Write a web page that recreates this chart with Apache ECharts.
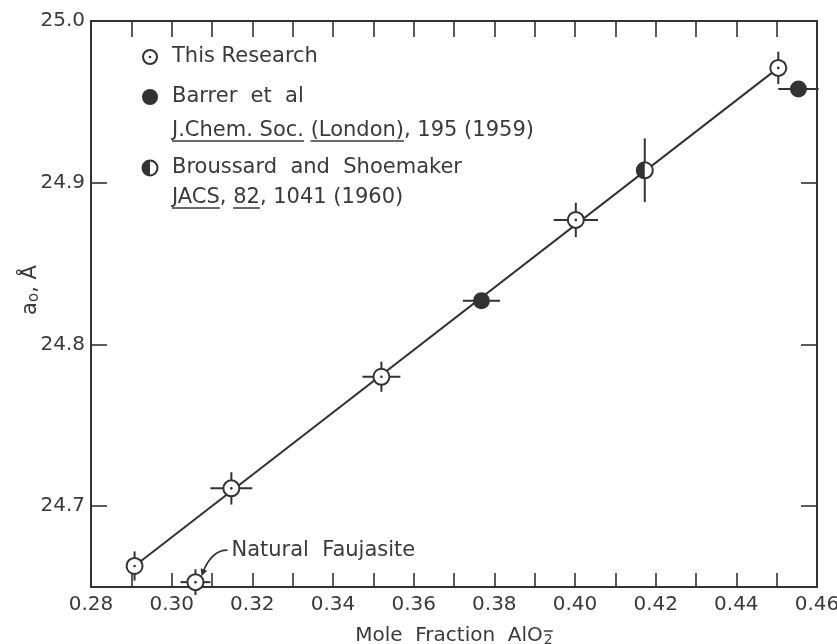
<!DOCTYPE html>
<html>
<head>
<meta charset="utf-8">
<script src="https://cdn.jsdelivr.net/npm/echarts@6/dist/echarts.min.js"></script>
<style>
html,body{margin:0;padding:0;background:#fff}
#main{width:837px;height:644px}
</style>
</head>
<body>
<div id="main"></div>
<script>
// [x, y, xErr, yErr]  (0 = no bar)
var thisResearch = [
  [0.2908, 24.663, 0, 0.009],
  [0.3059, 24.653, 0.0037, 0.008],
  [0.3148, 24.711, 0.0052, 0.010],
  [0.3520, 24.780, 0.0047, 0.0093],
  [0.4002, 24.877, 0.0055, 0.0106],
  [0.4504, 24.971, 0, 0.010]
];
var barrer = [
  [0.3768, 24.827, 0.0046, 0],
  [0.4554, 24.958, 0.005, 0]
];
var broussard = [
  [0.4173, 24.9077, 0, 0.0197]
];
var fitLine = [[0.2908, 24.663], [0.4504, 24.971]];
var faujasite = [0.3059, 24.653];

var xRange = [0.28, 0.46];
var yRange = [24.65, 25.0];

var legendRows = [
  { marker: 'open', y: 57, parts: ['This Research'], under: [false] },
  { marker: 'filled', y: 97, parts: ['Barrer  et  al'], under: [false] },
  { y: 131, parts: ['J.Chem. Soc.', ' ', '(London)', ', 195 (1959)'], under: [true, false, true, false] },
  { marker: 'half', y: 168, parts: ['Broussard  and  Shoemaker'], under: [false] },
  { y: 198, parts: ['JACS', ', ', '82', ', 1041 (1960)'], under: [true, false, true, false] }
];

var INK = '#333';
var TXT = '#3a3a3a';
var FONT = '"DejaVu Sans", sans-serif';
var GRID = { left: 91, right: 20, top: 21, bottom: 57, containLabel: false, outerBoundsMode: 'none' };

var chart = echarts.init(document.getElementById('main'));

function bars(api) {
  var x = api.value(0), y = api.value(1), ex = api.value(2), ey = api.value(3);
  var kids = [];
  if (ex) {
    var a = api.coord([x - ex, y]), b = api.coord([x + ex, y]);
    kids.push({ type: 'line', shape: { x1: a[0], y1: a[1], x2: b[0], y2: b[1] }, style: { stroke: INK, lineWidth: 2 } });
  }
  if (ey) {
    var c = api.coord([x, y - ey]), d = api.coord([x, y + ey]);
    kids.push({ type: 'line', shape: { x1: c[0], y1: c[1], x2: d[0], y2: d[1] }, style: { stroke: INK, lineWidth: 2 } });
  }
  return kids;
}

function markerShapes(kind, cx, cy, r) {
  if (kind === 'open') {
    return [
      { type: 'circle', shape: { cx: cx, cy: cy, r: r }, style: { fill: '#fff', stroke: INK, lineWidth: 2 } },
      { type: 'circle', shape: { cx: cx, cy: cy, r: 1.3 }, style: { fill: INK } }
    ];
  }
  if (kind === 'filled') {
    return [{ type: 'circle', shape: { cx: cx, cy: cy, r: r + 0.5 }, style: { fill: INK } }];
  }
  return [
    { type: 'circle', shape: { cx: cx, cy: cy, r: r }, style: { fill: '#fff', stroke: INK, lineWidth: 2 } },
    { type: 'sector', shape: { cx: cx, cy: cy, r0: 0, r: r, startAngle: Math.PI / 2, endAngle: Math.PI * 1.5, clockwise: true }, style: { fill: INK } }
  ];
}

function makeRender(kind) {
  return function (params, api) {
    var p = api.coord([api.value(0), api.value(1)]);
    return { type: 'group', children: bars(api).concat(markerShapes(kind, p[0], p[1], 8)) };
  };
}

function pointSeries(name, kind, data) {
  return {
    name: name,
    type: 'custom',
    renderItem: makeRender(kind),
    data: data,
    encode: { x: 0, y: 1 },
    z: 5,
    animation: false
  };
}

var axisLine = { show: true, onZero: false, lineStyle: { color: INK, width: 2 } };
var tickStyle = { color: INK, width: 1.6 };

// legend built as graphics
var ctx = document.createElement('canvas').getContext('2d');
function textW(s, size) { ctx.font = size + 'px "DejaVu Sans"'; return ctx.measureText(s).width; }
var graphics = [];
legendRows.forEach(function (row) {
  if (row.marker) {
    var r = row.marker === 'open' ? 7 : 7.5;
    markerShapes(row.marker, 150, row.y, r).forEach(function (s) { graphics.push(s); });
  }
  graphics.push({
    type: 'text', x: 172, y: row.y,
    style: { text: row.parts.join(''), fill: TXT, font: '21px ' + FONT, verticalAlign: 'middle', align: 'left' }
  });
  var off = 0;
  row.parts.forEach(function (s, i) {
    var w = textW(s, 21);
    if (row.under[i]) {
      graphics.push({ type: 'line', shape: { x1: 172 + off, y1: row.y + 10, x2: 172 + off + w, y2: row.y + 10 }, style: { stroke: TXT, lineWidth: 1.5 } });
    }
    off += w;
  });
});

var nameMain = 'Mole  Fraction  AlO';

var option = {
  backgroundColor: '#fff',
  animation: false,
  grid: GRID,
  xAxis: [
    {
      type: 'value', position: 'bottom', min: xRange[0], max: xRange[1], interval: 0.02,
      axisLine: axisLine,
      axisTick: { show: true, inside: true, length: 14, lineStyle: tickStyle },
      minorTick: { show: true, splitNumber: 2, length: 14, lineStyle: tickStyle },
      splitLine: { show: false },
      axisLabel: { formatter: function (v) { return v.toFixed(2); }, color: TXT, fontSize: 20, fontFamily: FONT, margin: 8 },
      name: nameMain + '{s|2}',
      nameLocation: 'middle', nameGap: 37, nameMoveOverlap: false,
      nameTextStyle: { color: TXT, fontSize: 20, fontFamily: FONT, rich: { s: { fontSize: 14, fontFamily: FONT, color: TXT, padding: [9, 0, 0, 1] } } }
    },
    {
      type: 'value', position: 'top', min: xRange[0], max: xRange[1], interval: 0.02,
      axisLine: axisLine,
      axisTick: { show: true, inside: true, length: 16, lineStyle: tickStyle },
      minorTick: { show: true, splitNumber: 2, length: 16, lineStyle: tickStyle },
      splitLine: { show: false },
      axisLabel: { show: false }
    }
  ],
  yAxis: [
    {
      type: 'value', position: 'left', min: yRange[0], max: yRange[1], splitNumber: 4,
      axisLine: axisLine,
      axisTick: { show: true, inside: true, length: 16, lineStyle: tickStyle },
      splitLine: { show: false },
      axisLabel: { showMinLabel: false, formatter: function (v) { return v.toFixed(1); }, color: TXT, fontSize: 20, fontFamily: FONT, margin: 6 },
      name: 'a{s|o}, \u00C5',
      nameLocation: 'middle', nameGap: 49, nameMoveOverlap: false,
      nameTextStyle: { color: TXT, fontSize: 21, fontFamily: FONT, padding: [0, 0, 0, 28], rich: { s: { fontSize: 15, fontFamily: FONT, color: TXT, padding: [8, 0, 0, 0] } } }
    },
    {
      type: 'value', position: 'right', min: yRange[0], max: yRange[1], splitNumber: 4,
      axisLine: axisLine,
      axisTick: { show: true, inside: true, length: 16, lineStyle: tickStyle },
      splitLine: { show: false },
      axisLabel: { show: false }
    }
  ],
  series: [
    {
      name: 'fit', type: 'line', data: fitLine, symbol: 'none', z: 2,
      lineStyle: { color: INK, width: 2 }, silent: true
    },
    pointSeries('This Research', 'open', thisResearch),
    pointSeries('Barrer et al', 'filled', barrer),
    pointSeries('Broussard and Shoemaker', 'half', broussard)
  ],
  graphic: graphics
};

chart.setOption(option);

// minus sign over the subscript 2 of AlO2
var wMain = textW(nameMain, 20), wSub = textW('2', 14);
var x0 = chart.convertToPixel({ xAxisIndex: 0 }, xRange[0]);
var x1 = chart.convertToPixel({ xAxisIndex: 0 }, xRange[1]);
var yBot = chart.convertToPixel({ yAxisIndex: 0 }, yRange[0]);
var subX = (x0 + x1) / 2 - (wMain + wSub + 1) / 2 + wMain + 1;
graphics.push({ type: 'line', shape: { x1: subX, y1: yBot + 44, x2: subX + wSub, y2: yBot + 44 }, style: { stroke: TXT, lineWidth: 1.5 } });

// "Natural Faujasite" label with curved leader
var p = chart.convertToPixel({ xAxisIndex: 0, yAxisIndex: 0 }, faujasite);
var sx = p[0] + 32, sy = p[1] - 32, tx = p[0] + 6, ty = p[1] - 6;
var cpx = p[0] + 16, cpy = p[1] - 32;
var dx = tx - cpx, dy = ty - cpy, len = Math.sqrt(dx * dx + dy * dy);
dx /= len; dy /= len;
var ah = 7, aw = 3.5;
graphics.push(
  { type: 'text', x: p[0] + 36, y: sy, style: { text: 'Natural  Faujasite', fill: TXT, font: '21px ' + FONT, verticalAlign: 'middle', align: 'left' } },
  { type: 'bezierCurve', shape: { x1: sx, y1: sy, x2: tx - dx * 4, y2: ty - dy * 4, cpx1: cpx, cpy1: cpy }, style: { stroke: INK, lineWidth: 1.6, fill: null } },
  { type: 'polygon', shape: { points: [[tx, ty], [tx - dx * ah - dy * aw, ty - dy * ah + dx * aw], [tx - dx * ah + dy * aw, ty - dy * ah - dx * aw]] }, style: { fill: INK } }
);
chart.setOption({ graphic: graphics });
window.addEventListener('resize', function () { chart.resize(); });
</script>
</body>
</html>
